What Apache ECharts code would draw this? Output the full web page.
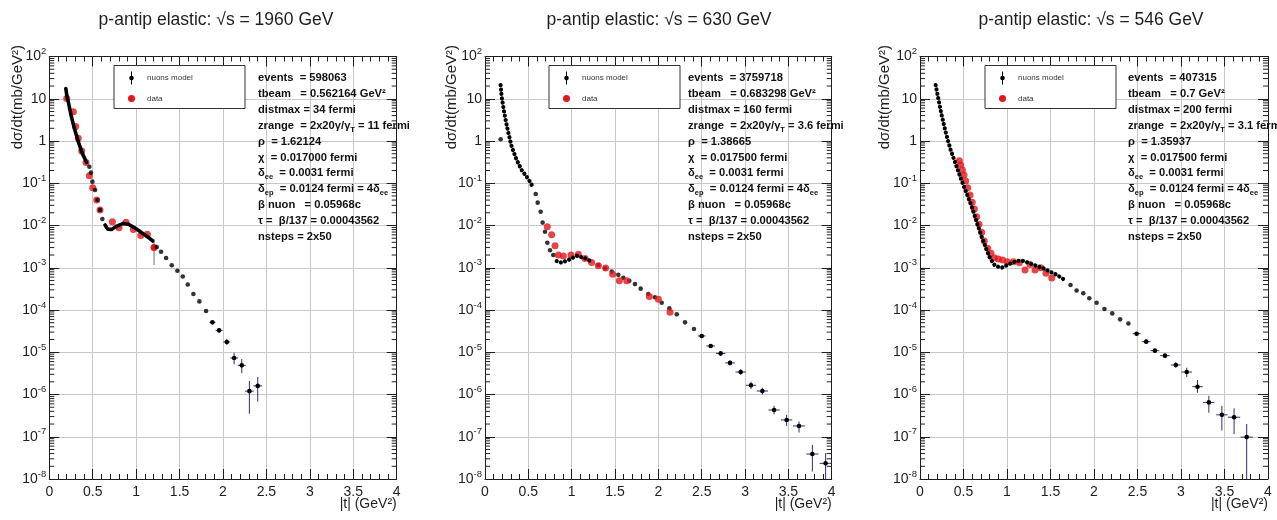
<!DOCTYPE html>
<html>
<head>
<meta charset="utf-8">
<script src="https://cdn.jsdelivr.net/npm/echarts@6/dist/echarts.min.js"></script>
<style>
  html, body { margin: 0; padding: 0; background: #fff; }
  #chart { width: 1277px; height: 520px; }
</style>
</head>
<body>
<div id="chart"></div>
<script>
// ---- axis ranges and tick labels ----
const xRange = [0, 4];
const xStep = 0.5;
const yRange = [1e-8, 1e2];
const yDecades = [-8, -7, -6, -5, -4, -3, -2, -1, 0, 1, 2];

// ---- titles and fit parameters ----
const titles = [
  'p-antip elastic: √s = 1960 GeV',
  'p-antip elastic: √s = 630 GeV',
  'p-antip elastic: √s = 546 GeV'
];
const events = ['598063', '3759718', '407315'];
const tbeam = ['0.562164', '0.683298', '0.7'];
const distmax = ['34', '160', '200'];
const zrange = ['11', '3.6', '3.1'];
const rho = ['1.62124', '1.38665', '1.35937'];
const chi = ['0.017000', '0.017500', '0.017500'];

// ---- 1960 GeV: nuons model (t, dσ/dt) ----
const model1Curve = [[0.19,17.5],[0.205,11],[0.219,8.5],[0.25,4.1],[0.288,2.0],[0.334,0.96],[0.38,0.51],[0.43,0.31]];
const model1Dip = [[0.642,0.0103],[0.672,0.0082],[0.72,0.0081],[0.776,0.0097],[0.853,0.0112],[0.91,0.0107],[0.98,0.0089],[1.045,0.0072],[1.10,0.0060],[1.152,0.0050],[1.19,0.0043]];
const model1Pts = [[0.461,0.245],[0.48,0.178],[0.496,0.109],[0.527,0.069],[0.553,0.040],[0.584,0.0234],[0.611,0.0143],
  [1.237,0.0031],[1.287,0.0024],[1.345,0.0017],[1.41,0.00115],[1.475,0.00085],[1.537,0.00062],[1.594,0.0004],[1.659,2.4e-4],[1.728,1.6e-4],[1.805,9.5e-5]];
// t, value, t half-width, low, high
const model1Err = [[1.878,5.1e-5,0.035,4.6e-5,5.6e-5],[1.955,3.3e-5,0.04,2.9e-5,3.7e-5],[2.044,1.75e-5,0.04,1.5e-5,2.05e-5],
  [2.128,7.3e-6,0.045,5.2e-6,9.7e-6],[2.216,4.9e-6,0.045,3.2e-6,6.9e-6],[2.304,1.2e-6,0.05,3.5e-7,2.1e-6],[2.40,1.6e-6,0.05,6.8e-7,2.6e-6]];
const data1 = [[0.20,10.2],[0.277,4.9],[0.304,2.19],[0.334,1.16],[0.373,0.58],[0.423,0.31],[0.461,0.151],[0.50,0.0785],[0.546,0.040],[0.584,0.0234],
  [0.726,0.0123],[0.803,0.0089],[0.884,0.0119],[0.968,0.0080],[1.053,0.0058],[1.129,0.0062]];
const data1Err = [[1.206,0.0030,0,0.00116,0.0048]];

// ---- 630 GeV ----
const model2Curve = [[0.18,21],[0.192,11.2],[0.223,4.5],[0.262,1.82],[0.308,0.73],[0.365,0.355],[0.423,0.206],[0.48,0.143],[0.519,0.109],[0.546,0.086]];
const model2Dip = [[0.827,0.00144],[0.885,0.00132],[0.962,0.00153],[1.058,0.00193],[1.154,0.00168],[1.231,0.00139]];
const model2Pts = [[0.181,1.1],[0.585,0.0557],[0.608,0.0347],[0.642,0.0212],[0.665,0.0117],[0.692,0.0071],[0.719,0.0039],[0.75,0.0026],[0.788,0.0020],
  [1.308,0.00116],[1.385,0.00097],[1.462,0.00081],[1.538,0.00068],[1.596,0.00058],[1.665,0.00049],[1.73,0.00041],[1.796,3.2e-4],[1.884,2.4e-4],
  [1.961,2.0e-4],[2.039,1.48e-4],[2.127,1.09e-4],[2.212,7.9e-5],[2.308,5.1e-5],[2.411,3.55e-5]];
const model2Err = [[2.50,2.43e-5,0.045,2.2e-5,2.7e-5],[2.604,1.41e-5,0.05,1.27e-5,1.56e-5],[2.719,9.4e-6,0.055,8.3e-6,1.06e-5],
  [2.827,5.6e-6,0.055,4.9e-6,6.4e-6],[2.95,3.4e-6,0.06,2.9e-6,4.0e-6],[3.069,1.65e-6,0.06,1.35e-6,2.0e-6],[3.20,1.21e-6,0.065,1.0e-6,1.45e-6],
  [3.335,4.3e-7,0.065,3.4e-7,5.4e-7],[3.48,2.5e-7,0.065,1.8e-7,3.3e-7],[3.623,1.8e-7,0.07,1.26e-7,2.3e-7],[3.777,3.9e-8,0.07,1.5e-8,6.4e-8],
  [3.93,2.35e-8,0.07,1.0e-8,4.1e-8]];
const data2 = [[0.719,0.0093],[0.769,0.0060],[0.808,0.0033],[0.846,0.0020],[0.904,0.0019],[0.992,0.0020],[1.077,0.0021],[1.154,0.00165],
  [1.231,0.00134],[1.308,0.00112],[1.392,0.00098],[1.473,0.0007],[1.55,0.00049],[1.635,0.00049],[1.896,2.1e-4],[2.0,1.8e-4],[2.135,8.9e-5]];

// ---- 546 GeV ----
const model3Curve = [[0.18,21],[0.21,10.2],[0.249,4.1],[0.299,1.51],[0.353,0.61],[0.414,0.27],[0.468,0.131],[0.529,0.063],[0.594,0.028],
  [0.651,0.0123],[0.709,0.0054],[0.759,0.0029],[0.805,0.00167],[0.862,0.00112],[0.939,0.0010],[1.015,0.0012],[1.11,0.00145],[1.188,0.00145],
  [1.264,0.00127],[1.341,0.0011],[1.418,0.00097],[1.494,0.00081],[1.571,0.00068],[1.648,0.00054]];
const model3Pts = [[1.73,3.9e-4],[1.80,2.9e-4],[1.877,2.5e-4],[1.946,1.9e-4],[2.03,1.48e-4],[2.12,1.06e-4],[2.21,8.3e-5],[2.30,6.0e-5],[2.395,4.8e-5]];
const model3Err = [[2.49,2.75e-5,0.045,2.5e-5,3.0e-5],[2.60,1.78e-5,0.05,1.6e-5,2.0e-5],[2.70,1.09e-5,0.05,9.8e-6,1.2e-5],[2.816,8.3e-6,0.055,7.4e-6,9.3e-6],
  [2.94,5.0e-6,0.055,4.3e-6,5.8e-6],[3.066,3.4e-6,0.06,2.6e-6,4.3e-6],[3.19,1.53e-6,0.06,1.1e-6,2.2e-6],[3.32,6.5e-7,0.065,3.7e-7,9.3e-7],
  [3.47,3.3e-7,0.065,1.4e-7,5.4e-7],[3.61,2.9e-7,0.07,1.16e-7,4.7e-7],[3.755,9.8e-8,0.07,1.0e-8,2.0e-7]];
const data3 = [[0.452,0.34],[0.467,0.27],[0.487,0.206],[0.506,0.157],[0.525,0.113],[0.548,0.0785],[0.575,0.0525],[0.60,0.0354],[0.625,0.0245],
  [0.651,0.0162],[0.678,0.0107],[0.709,0.0069],[0.739,0.0043],[0.778,0.0029],[0.816,0.0022],[0.854,0.00173],[0.90,0.00162],[0.95,0.00153],
  [1.004,0.00139],[1.073,0.00139],[1.142,0.00132],[1.207,0.00089],[1.264,0.0012],[1.322,0.00089],[1.387,0.0010],[1.448,0.00074],[1.514,0.00057]];

// ---- layout ----
const FONT = "'Liberation Sans', Arial, sans-serif";
const INK = '#1e1e1e';
const GRID_TOP = 56.5, GRID_H = 422.5;
const panels = [
  { left: 49.3, width: 347.4, curves: [model1Curve, model1Dip], dotted: false, pts: model1Pts, err: model1Err, data: data1, dataErr: data1Err,
    dataOnTop: false, titleX: 216, yNameX: 18, legendX: 114, statsX: 258 },
  { left: 485, width: 346.7, curves: [model2Curve, model2Dip], dotted: true, pts: model2Pts, err: model2Err, data: data2, dataErr: [],
    dataOnTop: true, titleX: 659, yNameX: 452, legendX: 549, statsX: 688 },
  { left: 920, width: 348, curves: [model3Curve], dotted: true, pts: model3Pts, err: model3Err, data: data3, dataErr: [],
    dataOnTop: true, titleX: 1091, yNameX: 885, legendX: 985, statsX: 1128 }
];

// minor ticks of the log axis: 2..9 in every decade
const yMinorTicks = [];
for (let e = yDecades[0]; e < yDecades[yDecades.length - 1]; e++) {
  for (let m = 2; m <= 9; m++) yMinorTicks.push([xRange[0], m * Math.pow(10, e)]);
}

function yTickLabel(v) {
  const e = Math.round(Math.log10(v));
  if (e === 0) return '{b|1}';
  if (e === 1) return '{b|10}';
  return '{b|10}{s|' + e + '}';
}

function errorBars(barColor, dotColor, r) {
  return function (params, api) {
    const t = api.value(0), v = api.value(1), xe = api.value(2), lo = api.value(3), hi = api.value(4);
    const c = api.coord([t, v]);
    const a = api.coord([t, lo]), b = api.coord([t, hi]);
    const st = { stroke: barColor, lineWidth: 1 };
    const kids = [];
    if (xe > 0) {
      const l = api.coord([t - xe, v]), rr = api.coord([t + xe, v]);
      kids.push({ type: 'line', shape: { x1: l[0], y1: c[1], x2: rr[0], y2: c[1] }, style: st });
    }
    kids.push({ type: 'line', shape: { x1: c[0], y1: a[1], x2: c[0], y2: b[1] }, style: st });
    kids.push({ type: 'circle', shape: { cx: c[0], cy: c[1], r: r }, style: { fill: dotColor } });
    return { type: 'group', children: kids };
  };
}

function minorYTicks(params, api) {
  const v = api.value(1);
  const p1 = api.coord([xRange[0], v]);
  const p2 = api.coord([xRange[1], v]);
  const st = { stroke: INK, lineWidth: 1 };
  return {
    type: 'group', children: [
      { type: 'line', shape: { x1: p1[0], y1: p1[1], x2: p1[0] + 5, y2: p1[1] }, style: st },
      { type: 'line', shape: { x1: p2[0] - 5, y1: p2[1], x2: p2[0], y2: p2[1] }, style: st }
    ]
  };
}

const grids = [], xAxes = [], yAxes = [], series = [], graphics = [];
const frameLine = { show: true, onZero: false, lineStyle: { color: INK, width: 1 } };

panels.forEach((p, i) => {
  grids.push({ left: p.left, top: GRID_TOP, width: p.width, height: GRID_H, containLabel: false });
  const xBase = { gridIndex: i, type: 'value', min: xRange[0], max: xRange[1], interval: xStep, axisLine: frameLine,
    axisTick: { show: true, inside: true, length: 10, lineStyle: { color: INK } },
    minorTick: { show: true, splitNumber: 5, length: 5, lineStyle: { color: INK } } };
  xAxes.push(Object.assign({}, xBase, {
    position: 'bottom',
    splitLine: { show: true, lineStyle: { color: '#c8c8c8', width: 1 } },
    axisLabel: { fontSize: 14, color: INK, fontFamily: FONT, margin: 6 }
  }));
  xAxes.push(Object.assign({}, xBase, { position: 'top', splitLine: { show: false }, axisLabel: { show: false } }));
  const yBase = { gridIndex: i, type: 'log', logBase: 10, min: yRange[0], max: yRange[1], interval: 1, axisLine: frameLine,
    axisTick: { show: true, inside: true, length: 10, lineStyle: { color: INK } }, minorTick: { show: false } };
  yAxes.push(Object.assign({}, yBase, {
    position: 'left',
    splitLine: { show: true, lineStyle: { color: '#c8c8c8', width: 1 } },
    axisLabel: { color: INK, fontFamily: FONT, margin: 3, formatter: yTickLabel, hideOverlap: false,
      rich: { b: { fontSize: 14, lineHeight: 20, fontFamily: FONT, color: INK },
              s: { fontSize: 9.5, lineHeight: 10, verticalAlign: 'top', fontFamily: FONT, color: INK } } }
  }));
  yAxes.push(Object.assign({}, yBase, { position: 'right', splitLine: { show: false }, axisLabel: { show: false } }));

  const ax = { xAxisIndex: 2 * i, yAxisIndex: 2 * i };
  series.push(Object.assign({ type: 'custom', silent: true, data: yMinorTicks, renderItem: minorYTicks, z: 3 }, ax));

  const dataSeries = [Object.assign({ type: 'scatter', name: 'data', data: p.data, symbol: 'circle', symbolSize: 7,
    itemStyle: { color: '#e3171c' }, silent: true }, ax)];
  if (p.dataErr.length) {
    dataSeries.push(Object.assign({ type: 'custom', data: p.dataErr, renderItem: errorBars('#707078', '#e3171c', 3.5), silent: true,
      encode: { x: 0, y: 1 } }, ax));
  }
  const modelSeries = [];
  p.curves.forEach(c => {
    modelSeries.push(Object.assign({ type: 'line', name: 'nuons model', data: c, symbol: 'none', silent: true,
      lineStyle: p.dotted ? { color: '#000', width: 4.2, type: [0.01, 4.4], cap: 'round' } : { color: '#000', width: 3.6, cap: 'round', join: 'round' } }, ax));
  });
  modelSeries.push(Object.assign({ type: 'scatter', name: 'nuons model', data: p.pts, symbol: 'circle', symbolSize: 4.6,
    itemStyle: { color: '#000' }, silent: true }, ax));
  modelSeries.push(Object.assign({ type: 'custom', data: p.err, renderItem: errorBars('#2d2d78', '#000', 2.3), silent: true,
    encode: { x: 0, y: 1 } }, ax));
  if (p.dataOnTop) { series.push(...modelSeries, ...dataSeries); } else { series.push(...dataSeries, ...modelSeries); }

  // title
  graphics.push({ type: 'text', x: p.titleX, y: 20, style: { text: titles[i], font: '17.5px ' + FONT, fill: INK, align: 'center', verticalAlign: 'middle' } });
  // axis names
  graphics.push({ type: 'text', x: p.yNameX, y: 45, rotation: Math.PI / 2,
    style: { text: 'dσ/dt(mb/GeV²)', font: '15px ' + FONT, fill: INK, align: 'right', verticalAlign: 'middle' } });
  graphics.push({ type: 'text', x: p.left + p.width, y: 504,
    style: { text: '|t| (GeV²)', font: '14px ' + FONT, fill: INK, align: 'right', verticalAlign: 'middle' } });
  // legend box
  const lx = p.legendX, ly = 65.5;
  graphics.push({ type: 'rect', shape: { x: lx, y: ly, width: 131, height: 43 }, style: { fill: '#fff', stroke: '#333', lineWidth: 1 }, z: 10 });
  graphics.push({ type: 'line', shape: { x1: lx + 17.5, y1: ly + 6, x2: lx + 17.5, y2: ly + 19 }, style: { stroke: '#000', lineWidth: 1 }, z: 11 });
  graphics.push({ type: 'circle', shape: { cx: lx + 17.5, cy: ly + 12.5, r: 2.3 }, style: { fill: '#000' }, z: 11 });
  graphics.push({ type: 'circle', shape: { cx: lx + 17.5, cy: ly + 33, r: 3.5 }, style: { fill: '#e3171c' }, z: 11 });
  graphics.push({ type: 'text', x: lx + 33, y: ly + 12.5, style: { text: 'nuons model', font: '8px ' + FONT, fill: '#333', verticalAlign: 'middle' }, z: 11 });
  graphics.push({ type: 'text', x: lx + 33, y: ly + 33, style: { text: 'data', font: '8px ' + FONT, fill: '#333', verticalAlign: 'middle' }, z: 11 });
  // fit parameters
  const lines = [
    'events  = ' + events[i],
    'tbeam   = ' + tbeam[i] + ' GeV²',
    'distmax = ' + distmax[i] + ' fermi',
    'zrange  = 2x20γ/γ{sub|T} = ' + zrange[i] + ' fermi',
    'ρ  = ' + rho[i],
    'χ  = ' + chi[i] + ' fermi',
    'δ{sub|ee}  = 0.0031 fermi',
    'δ{sub|ep}  = 0.0124 fermi = 4δ{sub|ee}',
    'β nuon   = 0.05968c',
    'τ =  β/137 = 0.00043562',
    'nsteps = 2x50'
  ];
  graphics.push({ type: 'text', x: p.statsX, y: 70.4, z: 11,
    style: { text: lines.join('\n'), fontFamily: FONT, fontSize: 11.2, fontWeight: 'bold', fill: '#111', lineHeight: 15.84, verticalAlign: 'top',
      rich: { sub: { fontFamily: FONT, fontSize: 7.5, fontWeight: 'bold', fill: '#111', lineHeight: 9, verticalAlign: 'bottom' } } } });
});

const chart = echarts.init(document.getElementById('chart'), null, { renderer: 'canvas' });
chart.setOption({
  animation: false,
  backgroundColor: '#fff',
  textStyle: { fontFamily: FONT },
  grid: grids,
  xAxis: xAxes,
  yAxis: yAxes,
  series: series,
  graphic: graphics
});
</script>
</body>
</html>
